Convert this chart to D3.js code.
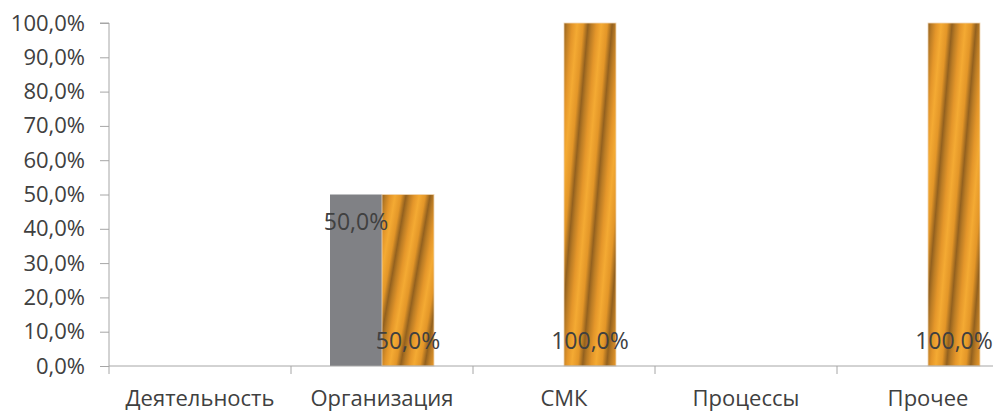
<!DOCTYPE html>
<html><head><meta charset="utf-8">
<script src="https://cdn.jsdelivr.net/npm/d3@7"></script>
<style>
html,body{margin:0;padding:0;background:#fff;overflow:hidden;}
svg{display:block;}
</style></head>
<body>
<svg id="chart" width="993" height="411"></svg>
<script>
const categories = ["Деятельность", "Организация", "СМК", "Процессы", "Прочее"];
const seriesGray = [0, 0.5, 0, 0, 0];
const seriesGold = [0, 0.5, 1, 0, 1];
const yTicks = [0, 0.1, 0.2, 0.3, 0.4, 0.5, 0.6, 0.7, 0.8, 0.9, 1.0];

(function () {
const fmt = v => (v * 100).toFixed(1).replace(".", ",") + "%";
const svg = d3.select("#chart");
const font = "'Open Sans', sans-serif";
const textCol = "#404040";
const axisCol = "#A6A6A6";

const pLeft = 109, pRight = 1019, pTop = 23, pBottom = 366;
const x = d3.scaleBand().domain(categories).range([pLeft, pRight]).paddingInner(0).paddingOuter(0);
const y = d3.scaleLinear().domain([0, 1]).range([pBottom, pTop]);
const inner = d3.scaleBand().domain(["gray", "gold"]).range([0, x.bandwidth()]).paddingOuter(0.75).paddingInner(0);

// gradient
const defs = svg.append("defs");
const g = defs.append("linearGradient").attr("id", "gold")
  .attr("gradientUnits", "objectBoundingBox")
  .attr("spreadMethod", "repeat")
  .attr("x1", 0).attr("y1", 0).attr("x2", 0.35).attr("y2", 0.2);
[[0, "#93611F"], [0.15, "#BB7C25"], [0.35, "#E4962A"], [0.55, "#F4AA33"], [0.8, "#E39628"], [1, "#93611F"]]
  .forEach(([o, c]) => g.append("stop").attr("offset", o).attr("stop-color", c));

// bars
const barsG = svg.append("g");
categories.forEach((c, i) => {
  if (seriesGray[i] > 0) {
    barsG.append("rect")
      .attr("x", x(c) + inner("gray")).attr("width", inner.bandwidth())
      .attr("y", y(seriesGray[i])).attr("height", y(0) - y(seriesGray[i]))
      .attr("fill", "#808185");
  }
  if (seriesGold[i] > 0) {
    barsG.append("rect")
      .attr("x", x(c) + inner("gold")).attr("width", inner.bandwidth())
      .attr("y", y(seriesGold[i])).attr("height", y(0) - y(seriesGold[i]))
      .attr("fill", "url(#gold)")
      .attr("stroke", "#EFD6B4").attr("stroke-width", 0.8);
  }
});

// y axis
const yAxis = d3.axisLeft(y).tickValues(yTicks).tickFormat(fmt).tickSize(9).tickPadding(15);
const ya = svg.append("g").attr("transform", `translate(${pLeft},0)`).call(yAxis);
ya.select(".domain").attr("stroke", axisCol).attr("d", `M-9,${pTop}H0V${pBottom}`);
ya.selectAll(".tick line").attr("stroke", axisCol);
ya.selectAll(".tick text").attr("fill", textCol).style("font-family", font).style("font-size", "22px");

// x axis
const xAxis = d3.axisBottom(x).tickSize(0).tickPadding(0);
const xa = svg.append("g").attr("transform", `translate(0,${pBottom})`).call(xAxis);
xa.select(".domain").attr("stroke", axisCol).attr("d", `M${pLeft},0H${pRight}`);
xa.selectAll(".tick text").attr("fill", textCol).attr("dy", 0).attr("y", 40)
  .style("font-family", font).style("font-size", "22px");
xa.selectAll(".bound").data(categories).enter().append("line").attr("class", "bound")
  .attr("x1", d => x(d)).attr("x2", d => x(d)).attr("y1", 0).attr("y2", 8)
  .attr("stroke", axisCol);

// data labels
const lab = svg.append("g").style("font-family", font).style("font-size", "23px").attr("fill", textCol).attr("text-anchor", "middle");
categories.forEach((c, i) => {
  if (seriesGray[i] > 0) {
    lab.append("text").attr("x", x(c) + inner("gray") + inner.bandwidth() / 2)
      .attr("y", y(seriesGray[i]) + 27).attr("dy", "0.35em").text(fmt(seriesGray[i]));
  }
  if (seriesGold[i] > 0) {
    lab.append("text").attr("x", x(c) + inner("gold") + inner.bandwidth() / 2)
      .attr("y", y(0) - 25).attr("dy", "0.35em").text(fmt(seriesGold[i]));
  }
});
})();
</script>
</body></html>
